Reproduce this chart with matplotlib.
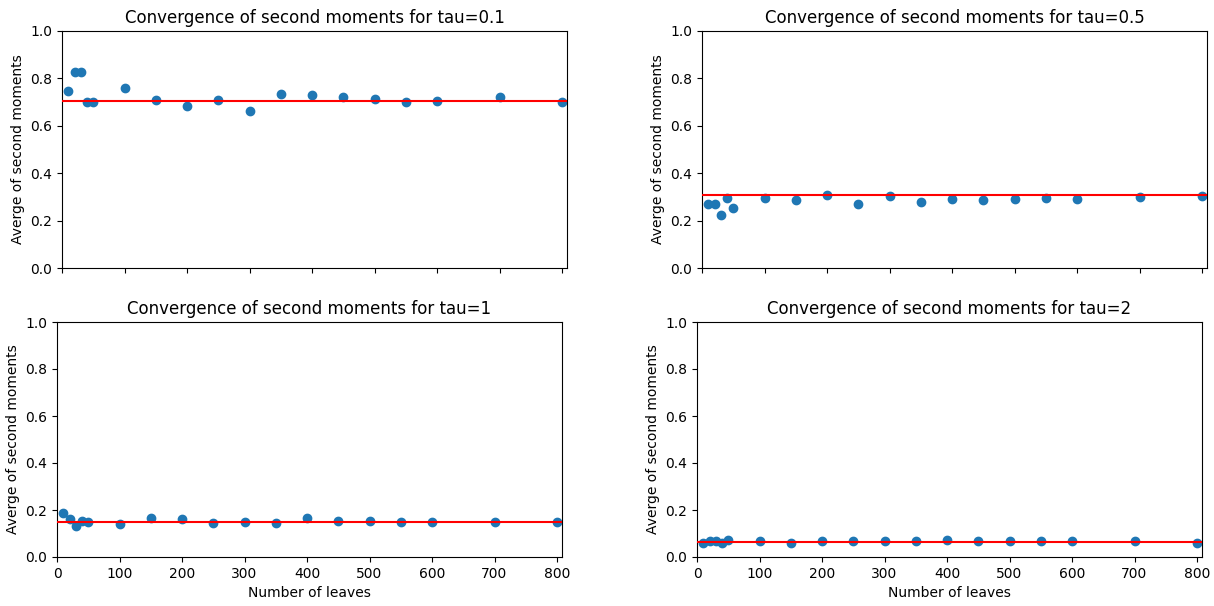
import matplotlib
matplotlib.use("Agg")
import matplotlib.pyplot as plt

# Number of leaves used in each run
leaves = [10, 20, 30, 40, 50, 100, 150, 200, 250, 300, 350, 400, 450, 500, 550, 600, 700, 800]

# Average second moments per tau
moments_tau_01 = [0.746, 0.825, 0.825, 0.700, 0.700, 0.759, 0.708, 0.683, 0.708, 0.663,
                  0.734, 0.730, 0.723, 0.714, 0.701, 0.704, 0.723, 0.700]
moments_tau_05 = [0.268, 0.268, 0.225, 0.296, 0.255, 0.296, 0.289, 0.308, 0.268, 0.304,
                  0.280, 0.292, 0.287, 0.292, 0.296, 0.292, 0.300, 0.304]
moments_tau_1 = [0.188, 0.160, 0.133, 0.154, 0.147, 0.141, 0.165, 0.160, 0.143, 0.151,
                 0.143, 0.165, 0.154, 0.154, 0.147, 0.151, 0.151, 0.147]
moments_tau_2 = [0.058, 0.066, 0.066, 0.061, 0.072, 0.066, 0.061, 0.066, 0.066, 0.066,
                 0.066, 0.072, 0.066, 0.066, 0.066, 0.066, 0.066, 0.061]

# Theoretical second moments (reference lines)
taus = ["0.1", "0.5", "1", "2"]
reference = [0.704, 0.307, 0.148, 0.064]
series = [moments_tau_01, moments_tau_05, moments_tau_1, moments_tau_2]

W, H = 1214, 606
fig = plt.figure(figsize=(W / 100, H / 100), dpi=100)

# axes boxes in pixels: (left, top, right, bottom)
boxes = [(62, 31, 567, 268), (702, 31, 1207, 268),
         (57, 322, 562, 557), (697, 322, 1202, 557)]

for i, (tau, ref, vals, box) in enumerate(zip(taus, reference, series, boxes)):
    l, t, r, b = box
    ax = fig.add_axes([l / W, (H - b) / H, (r - l) / W, (b - t) / H])
    ax.scatter(leaves, vals, color="#1f77b4", s=36, zorder=2)
    ax.axhline(ref, color="red", linewidth=1.5, zorder=3)
    ax.set_xlim(0, 808)
    ax.set_ylim(0, 1.0)
    ax.set_xticks(range(0, 801, 100))
    ax.set_yticks([0.0, 0.2, 0.4, 0.6, 0.8, 1.0])
    ax.set_title(f"Convergence of second moments for tau={tau}", fontsize=12)
    ax.set_ylabel("Averge of second moments", fontsize=10)
    if i >= 2:
        ax.set_xlabel("Number of leaves", fontsize=10)
    else:
        ax.tick_params(axis="x", labelbottom=False)

fig.savefig("out.png", dpi=100)
